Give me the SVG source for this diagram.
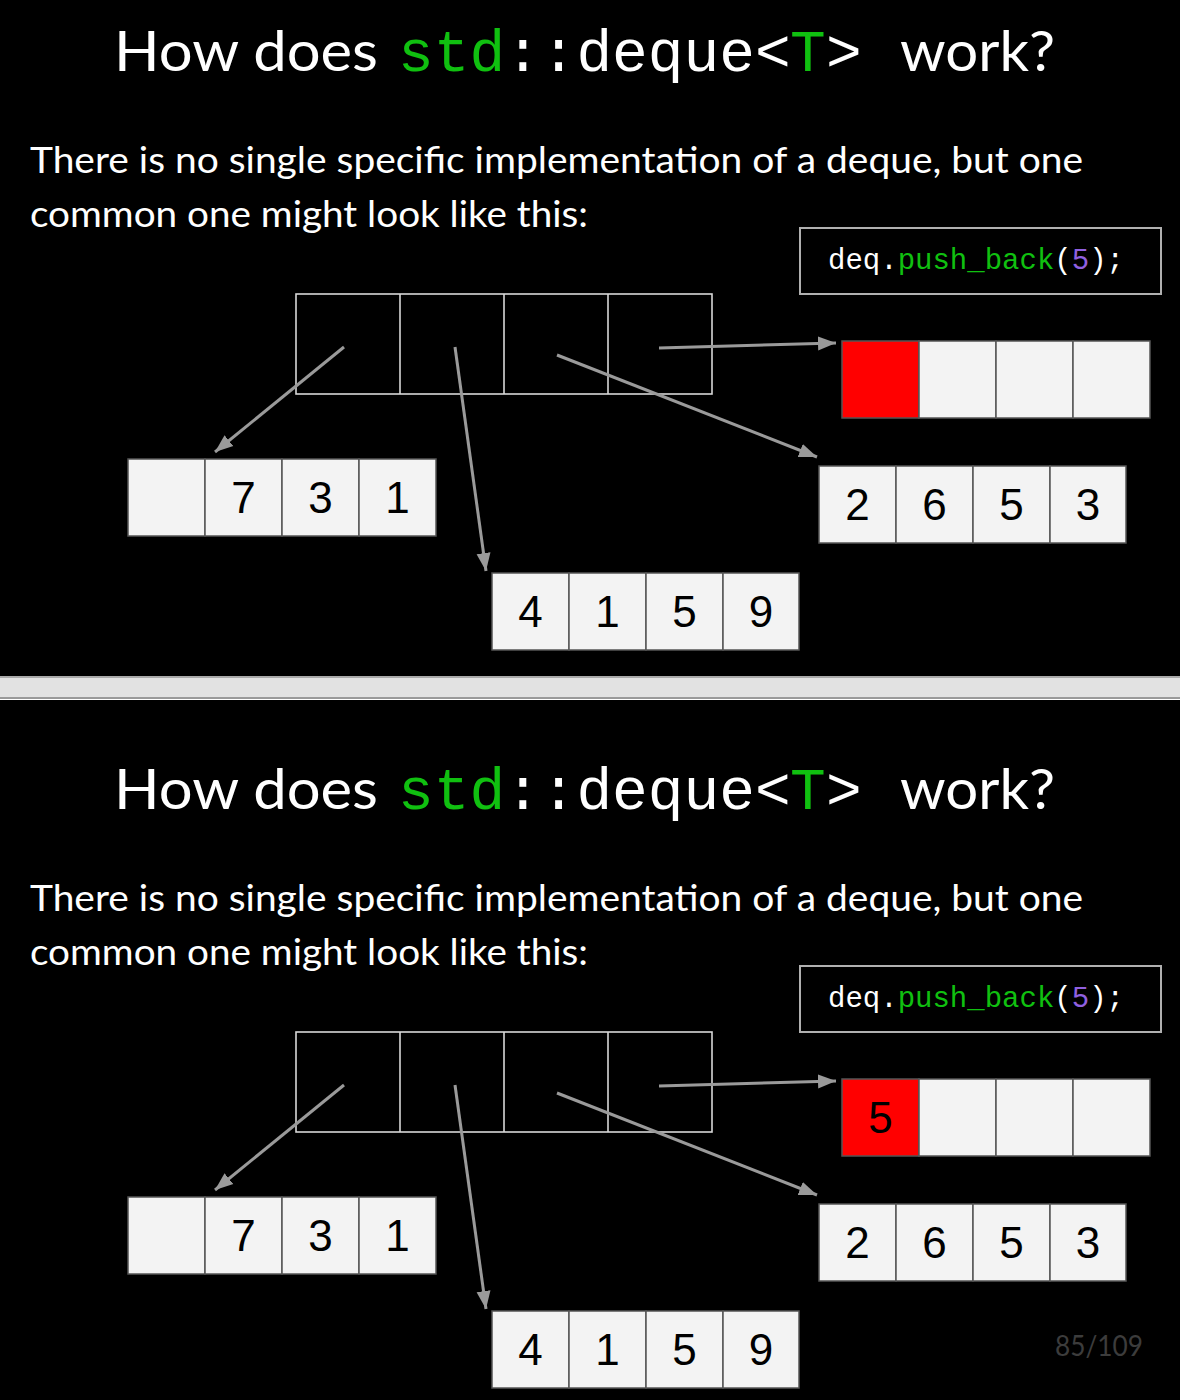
<svg xmlns="http://www.w3.org/2000/svg" width="1180" height="1400" viewBox="0 0 1180 1400">
<defs>
<style>
.title{font-family:Lato,"Liberation Sans",sans-serif;font-size:57px;fill:#ffffff}
.mono{font-family:"Liberation Mono","DejaVu Sans Mono",monospace;font-size:59.5px;fill:#ffffff}
.green{fill:#10c010}
.body{font-family:Lato,"Liberation Sans",sans-serif;font-size:36px;fill:#ffffff}
.code{font-family:"Liberation Mono","DejaVu Sans Mono",monospace;font-size:29px;fill:#ffffff}
.purple{fill:#9060e0}
.codebox{fill:none;stroke:#b0b0b0;stroke-width:2}
.map{fill:none;stroke:#d8d8d8;stroke-width:1.6}
.cell{fill:#f3f3f3;stroke:#555555;stroke-width:1.5}
.red{fill:#ff0000;stroke:#555555;stroke-width:1.5}
.num{font-family:"Liberation Sans",Arial,sans-serif;font-size:44px;fill:#000000;text-anchor:middle}
.conn{stroke:#9a9a9a;stroke-width:3;fill:none;marker-end:url(#ah)}
.page{font-family:Lato,"Liberation Sans",sans-serif;font-size:29px;fill:#3c3c3c}
</style>
<marker id="ah" markerUnits="userSpaceOnUse" markerWidth="20" markerHeight="16" viewBox="0 0 20 16" refX="18" refY="8" orient="auto">
<path d="M0,1 L18,8 L0,15 Z" fill="#9a9a9a"/>
</marker>
</defs>
<rect x="0" y="0" width="1180" height="1400" fill="#000000"/>

<!-- separator -->
<rect x="0" y="676" width="1180" height="2" fill="#aaaaaa"/>
<rect x="0" y="678" width="1180" height="19" fill="#e2e2e2"/>
<rect x="0" y="697" width="1180" height="1.7" fill="#9a9a9a"/>
<rect x="0" y="698.7" width="1180" height="1.3" fill="#ffffff"/>

<!-- Panel 1 -->
<g id="panel1">
<g id="title1">
<text class="title" x="114" y="71" textLength="264" lengthAdjust="spacingAndGlyphs">How does</text>
<text class="mono green" x="398" y="71">std</text>
<text class="mono" x="505" y="71">::deque&lt;</text>
<text class="mono green" x="790" y="71">T</text>
<text class="mono" x="826" y="71">&gt;</text>
<text class="title" x="900" y="71" textLength="155" lengthAdjust="spacingAndGlyphs">work?</text>
</g>
<g id="body1">
<text class="body" x="30" y="173" textLength="1053" lengthAdjust="spacingAndGlyphs">There is no single specific implementation of a deque, but one</text>
<text class="body" x="30" y="227" textLength="558" lengthAdjust="spacingAndGlyphs">common one might look like this:</text>
</g>
<g id="code1">
<rect class="codebox" x="800" y="228" width="361" height="66"/>
<text class="code" x="828" y="269" textLength="296" lengthAdjust="spacingAndGlyphs">deq.<tspan class="green">push_back</tspan>(<tspan class="purple">5</tspan>);</text>
</g>
<g id="map1">
<rect class="map" x="296" y="294" width="416" height="100"/>
<line class="map" x1="400" y1="294" x2="400" y2="394"/>
<line class="map" x1="504" y1="294" x2="504" y2="394"/>
<line class="map" x1="608" y1="294" x2="608" y2="394"/>
</g>
<g id="blockA1">
<rect class="cell" x="128" y="459" width="77" height="77"/>
<rect class="cell" x="205" y="459" width="77" height="77"/>
<rect class="cell" x="282" y="459" width="77" height="77"/>
<rect class="cell" x="359" y="459" width="77" height="77"/>
<text class="num" x="243.5" y="513">7</text>
<text class="num" x="320.5" y="513">3</text>
<text class="num" x="397.5" y="513">1</text>
</g>
<g id="blockB1">
<rect class="cell" x="492" y="573" width="77" height="77"/>
<rect class="cell" x="569" y="573" width="77" height="77"/>
<rect class="cell" x="646" y="573" width="77" height="77"/>
<rect class="cell" x="723" y="573" width="76" height="77"/>
<text class="num" x="530.5" y="627">4</text>
<text class="num" x="607.5" y="627">1</text>
<text class="num" x="684.5" y="627">5</text>
<text class="num" x="761" y="627">9</text>
</g>
<g id="blockC1">
<rect class="cell" x="819" y="466" width="77" height="77"/>
<rect class="cell" x="896" y="466" width="77" height="77"/>
<rect class="cell" x="973" y="466" width="77" height="77"/>
<rect class="cell" x="1050" y="466" width="76" height="77"/>
<text class="num" x="857.5" y="520">2</text>
<text class="num" x="934.5" y="520">6</text>
<text class="num" x="1011.5" y="520">5</text>
<text class="num" x="1088" y="520">3</text>
</g>
<g id="blockD1">
<rect class="red" x="842" y="341" width="77" height="77"/>
<rect class="cell" x="919" y="341" width="77" height="77"/>
<rect class="cell" x="996" y="341" width="77" height="77"/>
<rect class="cell" x="1073" y="341" width="77" height="77"/>
</g>
<g id="connectors1">
<line class="conn" x1="344" y1="347" x2="215" y2="452"/>
<line class="conn" x1="455" y1="347" x2="486" y2="571"/>
<line class="conn" x1="557" y1="355" x2="817" y2="457"/>
<line class="conn" x1="659" y1="348" x2="836" y2="343"/>
</g>
</g>

<!-- Panel 2 -->
<g id="panel2" transform="translate(0,738)">
<g id="title2">
<text class="title" x="114" y="71" textLength="264" lengthAdjust="spacingAndGlyphs">How does</text>
<text class="mono green" x="398" y="71">std</text>
<text class="mono" x="505" y="71">::deque&lt;</text>
<text class="mono green" x="790" y="71">T</text>
<text class="mono" x="826" y="71">&gt;</text>
<text class="title" x="900" y="71" textLength="155" lengthAdjust="spacingAndGlyphs">work?</text>
</g>
<g id="body2">
<text class="body" x="30" y="173" textLength="1053" lengthAdjust="spacingAndGlyphs">There is no single specific implementation of a deque, but one</text>
<text class="body" x="30" y="227" textLength="558" lengthAdjust="spacingAndGlyphs">common one might look like this:</text>
</g>
<g id="code2">
<rect class="codebox" x="800" y="228" width="361" height="66"/>
<text class="code" x="828" y="269" textLength="296" lengthAdjust="spacingAndGlyphs">deq.<tspan class="green">push_back</tspan>(<tspan class="purple">5</tspan>);</text>
</g>
<g id="map2">
<rect class="map" x="296" y="294" width="416" height="100"/>
<line class="map" x1="400" y1="294" x2="400" y2="394"/>
<line class="map" x1="504" y1="294" x2="504" y2="394"/>
<line class="map" x1="608" y1="294" x2="608" y2="394"/>
</g>
<g id="blockA2">
<rect class="cell" x="128" y="459" width="77" height="77"/>
<rect class="cell" x="205" y="459" width="77" height="77"/>
<rect class="cell" x="282" y="459" width="77" height="77"/>
<rect class="cell" x="359" y="459" width="77" height="77"/>
<text class="num" x="243.5" y="513">7</text>
<text class="num" x="320.5" y="513">3</text>
<text class="num" x="397.5" y="513">1</text>
</g>
<g id="blockB2">
<rect class="cell" x="492" y="573" width="77" height="77"/>
<rect class="cell" x="569" y="573" width="77" height="77"/>
<rect class="cell" x="646" y="573" width="77" height="77"/>
<rect class="cell" x="723" y="573" width="76" height="77"/>
<text class="num" x="530.5" y="627">4</text>
<text class="num" x="607.5" y="627">1</text>
<text class="num" x="684.5" y="627">5</text>
<text class="num" x="761" y="627">9</text>
</g>
<g id="blockC2">
<rect class="cell" x="819" y="466" width="77" height="77"/>
<rect class="cell" x="896" y="466" width="77" height="77"/>
<rect class="cell" x="973" y="466" width="77" height="77"/>
<rect class="cell" x="1050" y="466" width="76" height="77"/>
<text class="num" x="857.5" y="520">2</text>
<text class="num" x="934.5" y="520">6</text>
<text class="num" x="1011.5" y="520">5</text>
<text class="num" x="1088" y="520">3</text>
</g>
<g id="blockD2">
<rect class="red" x="842" y="341" width="77" height="77"/>
<rect class="cell" x="919" y="341" width="77" height="77"/>
<rect class="cell" x="996" y="341" width="77" height="77"/>
<rect class="cell" x="1073" y="341" width="77" height="77"/>
<text class="num" x="880.5" y="395">5</text>
</g>
<g id="connectors2">
<line class="conn" x1="344" y1="347" x2="215" y2="452"/>
<line class="conn" x1="455" y1="347" x2="486" y2="571"/>
<line class="conn" x1="557" y1="355" x2="817" y2="457"/>
<line class="conn" x1="659" y1="348" x2="836" y2="343"/>
</g>
</g>

<text class="page" x="1055" y="1356" textLength="88" lengthAdjust="spacingAndGlyphs">85/109</text>
</svg>
